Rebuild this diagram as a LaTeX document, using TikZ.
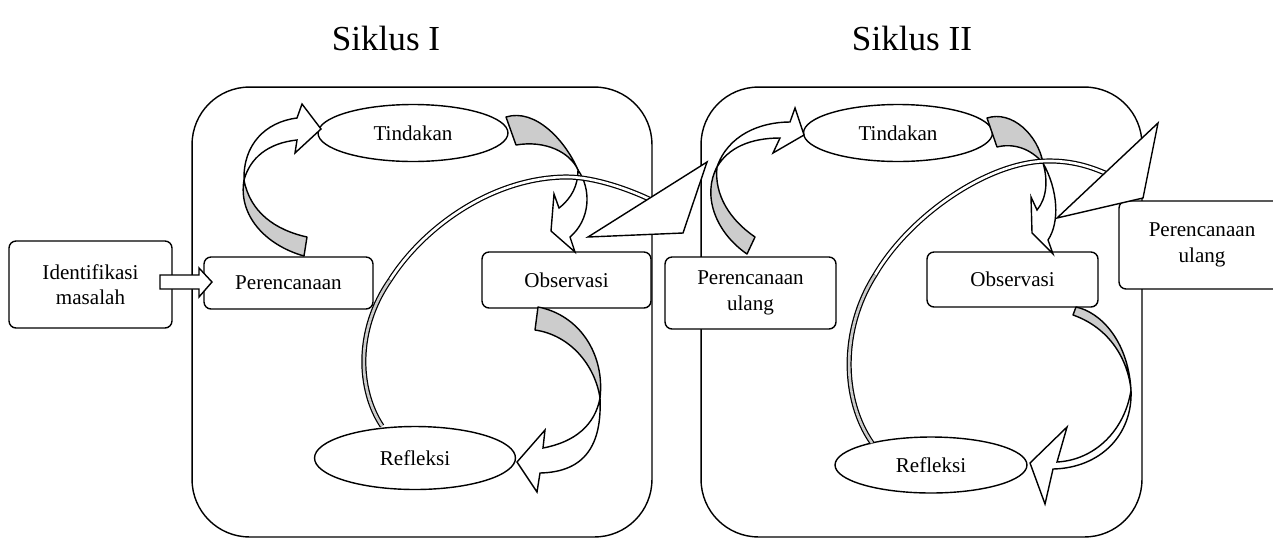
\documentclass[tikz,border=0pt]{standalone}
\usepackage{fontspec}
\setmainfont{Liberation Serif}
\usetikzlibrary{shapes.geometric,positioning}
\definecolor{bandgray}{RGB}{204,204,204}
\tikzset{
  siklus/.style={draw, line width=0.8pt, rounded corners=1.15cm, fill=white},
  stage/.style={draw, line width=0.8pt, rounded corners=4pt, fill=white, align=center,
    inner sep=2pt, font=\fontsize{12}{14.5}\selectfont},
  oval/.style={draw, ellipse, line width=0.8pt, fill=white, inner sep=0pt,
    font=\fontsize{12}{14.5}\selectfont},
  band/.style={draw, line width=0.8pt, line join=round, fill=bandgray},
  face/.style={draw, line width=0.8pt, fill=white},
  ribbon/.style={line width=0.7pt, double=#1, double distance=1.5pt},
  ribbon/.default=white,
  title/.style={font=\fontsize{20}{24}\selectfont}
}

\begin{document}
\begin{tikzpicture}[x=0.02cm, y=-0.02cm]
        \useasboundingbox (0,0) rectangle (1273,538);
        % Cycle frames and titles
        \node[siklus, minimum width=9.2cm, minimum height=9cm] (cyc1) at (422,312) {};
        \node[siklus, minimum width=8.82cm, minimum height=9cm] (cyc2) at (921.5,312) {};
        \node[title] (tit1) at (386,38) {Siklus I};
        \node[title] (tit2) at (912,38) {Siklus II};
        % Stages
        \node[stage, minimum width=3.26cm, minimum height=1.74cm] (idm) at (90.5,284.5) {Identifikasi\\masalah};
        \node[stage, minimum width=3.38cm, minimum height=1.04cm] (plan1) at (288.5,283) {Perencanaan};
        \node[stage, minimum width=3.38cm, minimum height=1.12cm] (obs1) at (566.5,280) {Observasi};
        \node[stage, minimum width=3.42cm, minimum height=1.44cm] (replan1) at (750.5,293) {Perencanaan\\ulang};
        \node[stage, minimum width=3.42cm, minimum height=1.10cm] (obs2) at (1012.5,279.5) {Observasi};
        \node[stage, minimum width=3.32cm, minimum height=1.76cm] (replan2) at (1202,245) {Perencanaan\\ulang};
        \node[oval, minimum width=3.8cm, minimum height=1.14cm] (act1) at (413,133) {Tindakan};
        \node[oval, minimum width=4.02cm, minimum height=1.26cm] (refl1) at (415,458) {Refleksi};
        \node[oval, minimum width=3.78cm, minimum height=1.14cm] (act2) at (898,133) {Tindakan};
        \node[oval, minimum width=3.84cm, minimum height=1.12cm] (refl2) at (931,465) {Refleksi};
        % Siklus I: curved arrows
        \draw[band] (244,180) .. controls (238,215) and (265,245) .. (304,256) -- (307,237)
          .. controls (275,230) and (250,212) .. (244,180) -- cycle;
        \draw[face] (244,180) .. controls (243,145) and (265,122) .. (297,118) -- (302,104) -- (321,129)
          -- (295,153) -- (297,140) .. controls (268,143) and (250,158) .. (244,180) -- cycle;
        \draw[band] (506,117) .. controls (535,108) and (565,140) .. (578,170)
          .. controls (570,152) and (545,140) .. (516,145) -- cycle;
        \draw[face] (578,170) .. controls (592,190) and (590,220) .. (570,237) -- (575,252) -- (551,231)
          -- (554,194) -- (559,208) .. controls (572,198) and (578,185) .. (578,170) -- cycle;
        \draw[band] (538,307) .. controls (580,315) and (605,355) .. (600,398)
          .. controls (595,365) and (570,335) .. (535,330) -- cycle;
        \draw[face] (600,398) .. controls (602,445) and (585,472) .. (540,473) -- (537,492) -- (517,462)
          -- (545,430) -- (543,448) .. controls (575,442) and (595,425) .. (600,398) -- cycle;
        % Siklus II: curved arrows
        \draw[band] (717,167) .. controls (702,195) and (715,232) .. (747,254) -- (755,237)
          .. controls (730,220) and (714,195) .. (717,167) -- cycle;
        \draw[face] (717,167) .. controls (728,135) and (760,122) .. (790,122) -- (795,108) -- (804,135)
          -- (773,153) -- (780,138) .. controls (750,138) and (728,148) .. (717,167) -- cycle;
        \draw[band] (987,118) .. controls (1012,110) and (1038,135) .. (1043,163)
          .. controls (1030,148) and (1013,143) .. (997,147) -- cycle;
        \draw[face] (1043,163) .. controls (1058,190) and (1060,222) .. (1048,240) -- (1053,254) -- (1032,233)
          -- (1031,197) -- (1037,210) .. controls (1047,198) and (1048,180) .. (1043,163) -- cycle;
        \draw[band] (1076,307) .. controls (1100,312) and (1128,340) .. (1131,390)
          .. controls (1128,360) and (1110,328) .. (1073,315) -- cycle;
        \draw[face] (1131,390) .. controls (1133,435) and (1100,468) .. (1053,469) -- (1045,504) -- (1030,463)
          -- (1067,427) -- (1057,462) .. controls (1095,460) and (1125,430) .. (1131,390) -- cycle;
        % Refleksi to next planning
        \draw[ribbon] (390,280) .. controls (425,225) and (495,177) .. (567,177)
          .. controls (595,177) and (630,190) .. (649,199);
        \draw[ribbon=bandgray] (382,426) .. controls (358,390) and (355,330) .. (390,280);
        \draw[face, line join=miter] (707,162) -- (683,233) -- (588,237) -- cycle;
        \draw[ribbon] (875,275) .. controls (910,215) and (990,160) .. (1050,161)
          .. controls (1075,161) and (1093,168) .. (1105,173);
        \draw[ribbon=bandgray] (872,443) .. controls (842,400) and (840,330) .. (875,275);
        \draw[face, line join=miter] (1158,123) -- (1143,198) -- (1057,218) -- cycle;
        % Entry arrow
        \draw[face] (160,275) -- (199,275) -- (199,268) -- (212,282) -- (199,297) -- (199,289)
          -- (160,289) -- cycle;
\end{tikzpicture}
\end{document}
